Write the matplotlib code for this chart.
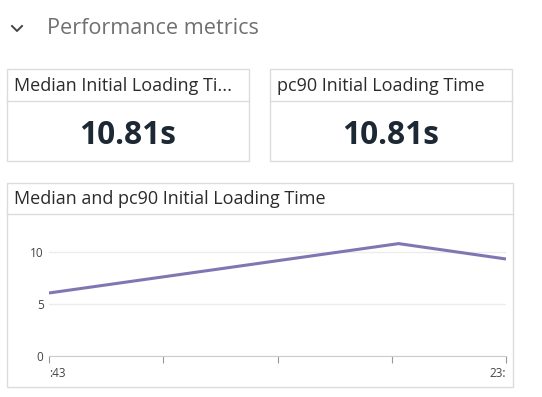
import matplotlib
matplotlib.use("Agg")
import matplotlib.pyplot as plt
from matplotlib.patches import Rectangle

plt.rcParams['font.family'] = ['Open Sans', 'DejaVu Sans']

# data
section_title = "Performance metrics"
card_titles = ["Median Initial Loading Ti...", "pc90 Initial Loading Time"]
card_values = ["10.81s", "10.81s"]
chart_title = "Median and pc90 Initial Loading Time"
x_pos = [0, 3.06, 4]
load_time = [6.06, 10.81, 9.33]
x_ticks = [0, 1, 2, 3, 4]
x_labels = [":43", "", "", "", "23:"]
y_ticks = [0, 5, 10]

W, H = 542, 397
fig = plt.figure(figsize=(W / 100, H / 100), dpi=100)
fig.patch.set_facecolor("white")

def px(x, y):
    # pixel coords (top-left origin) -> figure fraction
    return x / W, 1 - y / H

def card(x0, y0, x1, y1, ydiv, title):
    fig.patches.append(Rectangle(px(x0, y1), (x1 - x0) / W, (y1 - y0) / H,
                                 transform=fig.transFigure, fill=False,
                                 edgecolor="#dcdcdc", linewidth=1))
    fig.add_artist(plt.Line2D([x0 / W, x1 / W], [1 - ydiv / H] * 2,
                              transform=fig.transFigure, color="#dcdcdc", lw=1))
    fig.text(*px(x0 + 7, (y0 + ydiv) / 2 + 1), title, fontsize=13,
             color="#2b2b2b", va="center", ha="left")

# header chevron
cx = [12 / W, 17 / W, 22 / W]
cy = [1 - 26 / H, 1 - 31 / H, 1 - 26 / H]
fig.add_artist(plt.Line2D(cx, cy, transform=fig.transFigure, color="#444444", lw=1.4))
fig.text(*px(47, 28), section_title, fontsize=15.6, color="#707070",
         ha="left", va="center")

# stat cards
card(7, 69, 249, 161, 101, card_titles[0])
card(270, 69, 512, 161, 101, card_titles[1])
fig.text(*px(128, 136), card_values[0], fontsize=22.8, fontweight="bold",
         color="#1c2833", ha="center", va="center")
fig.text(*px(391, 136), card_values[1], fontsize=22.8, fontweight="bold",
         color="#1c2833", ha="center", va="center")

# chart card
card(7, 183, 513, 387, 214, chart_title)

ax = fig.add_axes([49 / W, 1 - 356 / H, (506 - 49) / W, (356 - 225) / H])
ax.plot(x_pos, load_time, color="#8077b2", lw=2.2, solid_capstyle="butt")
ax.set_xlim(0, 4)
ax.set_ylim(0, 12.6)
ax.set_yticks(y_ticks)
ax.set_yticklabels([str(v) for v in y_ticks])
ax.set_xticks(x_ticks)
ax.set_xticklabels(x_labels)
ax.grid(axis="y", color="#ececec", lw=1)
ax.set_axisbelow(True)
for s in ["top", "right", "left"]:
    ax.spines[s].set_visible(False)
ax.spines["bottom"].set_color("#cccccc")
ax.tick_params(axis="y", length=0, labelsize=8.5, labelcolor="#444444", pad=4)
ax.tick_params(axis="x", length=5, color="#999999", labelsize=8.5,
               labelcolor="#444444", pad=3)
labels = ax.get_xticklabels()
labels[0].set_ha("left")
labels[-1].set_ha("right")

fig.savefig("out.png", dpi=100)
